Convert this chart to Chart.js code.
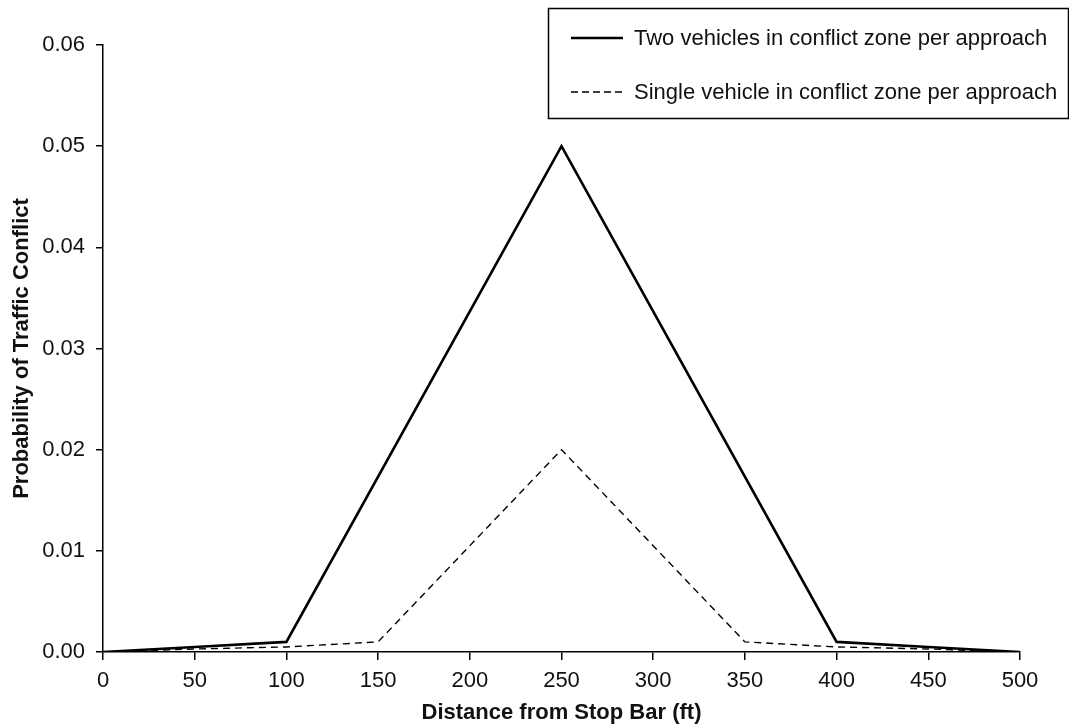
<!DOCTYPE html>
<html>
<head>
<meta charset="utf-8">
<script src="https://cdn.jsdelivr.net/npm/chart.js@4"></script>
<style>
  html, body { margin: 0; padding: 0; background: #fff; }
  #wrap { width: 1069px; height: 724px; position: relative; }
</style>
</head>
<body>
<div id="wrap"><canvas id="chart" width="1069" height="724"></canvas></div>
<script>
/* distance from stop bar (ft) */
const distances = [0, 50, 100, 150, 200, 250, 300, 350, 400, 450, 500];

/* two vehicles in conflict zone per approach */
const twoVehX = [0, 50, 100, 250, 400, 450, 500];
const twoVehY = [0, 0.0005, 0.001, 0.05, 0.001, 0.0005, 0];

/* single vehicle in conflict zone per approach */
const oneVehX = [0, 50, 100, 150, 250, 350, 400, 450, 500];
const oneVehY = [0, 0.0003, 0.0005, 0.001, 0.02, 0.001, 0.0005, 0.0003, 0];

const yTicks = [0, 0.01, 0.02, 0.03, 0.04, 0.05, 0.06];

const seriesNames = [
  'Two vehicles in conflict zone per approach',
  'Single vehicle in conflict zone per approach',
];

const FONT = '"Liberation Sans", Arial, sans-serif';

/* ── legend box drawn on the canvas ── */
const boxLegend = {
  id: 'boxLegend',
  afterDraw(chart) {
    const ctx = chart.ctx;
    ctx.save();
    ctx.strokeStyle = '#000';
    ctx.lineWidth = 1.5;
    ctx.strokeRect(548.5, 8.5, 520, 110);

    ctx.font = '22px ' + FONT;
    ctx.fillStyle = '#111';
    ctx.textBaseline = 'middle';

    ctx.lineWidth = 2.6;
    ctx.setLineDash([]);
    ctx.beginPath(); ctx.moveTo(571, 38); ctx.lineTo(623, 38); ctx.stroke();
    ctx.fillText(seriesNames[0], 634, 39);

    ctx.lineWidth = 1.4;
    ctx.setLineDash([7, 4]);
    ctx.beginPath(); ctx.moveTo(571, 92); ctx.lineTo(626, 92); ctx.stroke();
    ctx.setLineDash([]);
    ctx.fillText(seriesNames[1], 634, 93);
    ctx.restore();
  },
};

new Chart(document.getElementById('chart'), {
  type: 'line',
  data: {
    datasets: [
      {
        label: seriesNames[0],
        data: twoVehX.map((x, i) => ({ x, y: twoVehY[i] })),
        borderColor: '#000',
        borderWidth: 2.6,
        pointRadius: 0,
        tension: 0,
      },
      {
        label: seriesNames[1],
        data: oneVehX.map((x, i) => ({ x, y: oneVehY[i] })),
        borderColor: '#000',
        borderWidth: 1.4,
        borderDash: [7, 5],
        pointRadius: 0,
        tension: 0,
      },
    ],
  },
  options: {
    responsive: false,
    animation: false,
    layout: { padding: { top: 45, right: 49, left: 0, bottom: 0 } },
    plugins: { legend: { display: false }, tooltip: { enabled: false } },
    scales: {
      x: {
        type: 'linear',
        min: 0,
        max: 500,
        afterBuildTicks: s => { s.ticks = distances.map(v => ({ value: v })); },
        ticks: { color: '#111', font: { family: FONT, size: 22 }, padding: 8, maxRotation: 0 },
        grid: { display: true, drawOnChartArea: false, drawTicks: true, tickLength: 8, color: '#000', lineWidth: 1.5 },
        border: { display: true, color: '#000', width: 1.5 },
        title: { display: true, text: 'Distance from Stop Bar (ft)', color: '#111',
                 font: { family: FONT, size: 22, weight: 'bold', lineHeight: 1 }, padding: { top: 0, bottom: 0 } },
        afterFit: s => { s.height = 72; },
      },
      y: {
        min: 0,
        max: 0.06,
        afterBuildTicks: s => { s.ticks = yTicks.map(v => ({ value: v })); },
        ticks: { color: '#111', font: { family: FONT, size: 22 }, padding: 11,
                 callback: v => v.toFixed(2) },
        grid: { display: true, drawOnChartArea: false, drawTicks: true, tickLength: 7, color: '#000', lineWidth: 1.5 },
        border: { display: true, color: '#000', width: 1.5 },
        title: { display: true, text: 'Probability of Traffic Conflict', color: '#111',
                 font: { family: FONT, size: 22, weight: 'bold' }, padding: { top: 9, bottom: 0 } },
        afterFit: s => { s.width = 103; },
      },
    },
  },
  plugins: [boxLegend],
});
</script>
</body>
</html>
